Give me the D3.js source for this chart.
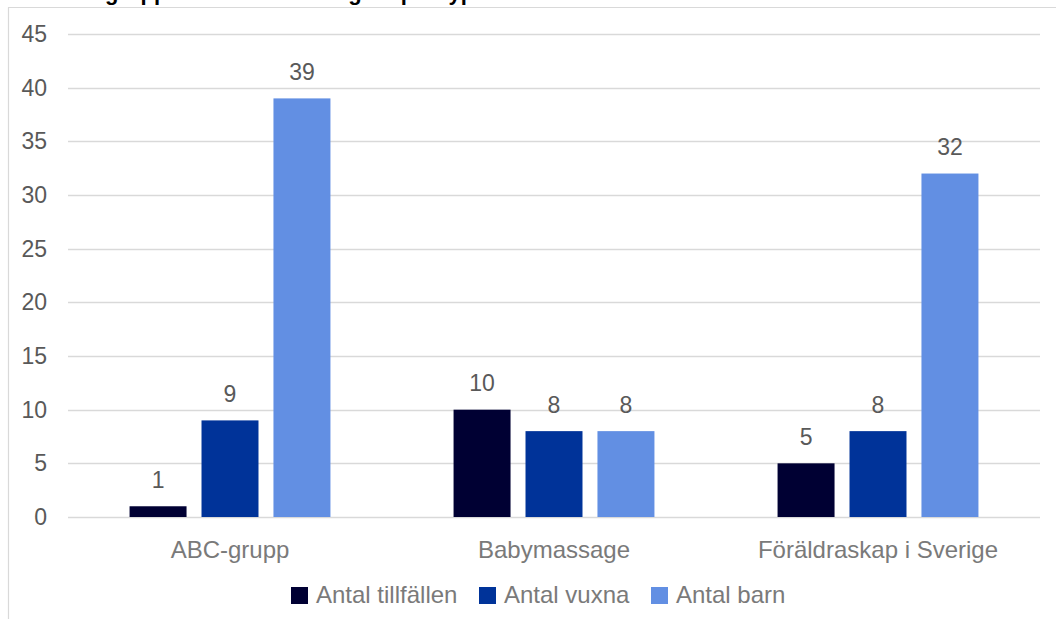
<!DOCTYPE html>
<html><head><meta charset="utf-8">
<script src="https://cdn.jsdelivr.net/npm/d3@7"></script>
<style>body{margin:0;background:#fff}svg{display:block}</style>
</head><body>
<svg id="c" width="1056" height="619"></svg>
<script>
const titleText = "Föräldragrupper och antal deltagare per typ";
const categories = ["ABC-grupp", "Babymassage", "Föräldraskap i Sverige"];
const seriesNames = ["Antal tillfällen", "Antal vuxna", "Antal barn"];
const seriesColors = ["#000033", "#003399", "#628fe3"];
const tillfallen = [1, 10, 5];
const vuxna = [9, 8, 8];
const barn = [39, 8, 32];
const yTicks = [0, 5, 10, 15, 20, 25, 30, 35, 40, 45];

(function () {
const seriesValues = [tillfallen, vuxna, barn];
const svg = d3.select("#c");
const font = "Arial, 'Liberation Sans', sans-serif";

// frame
svg.append("line").attr("x1", 8.5).attr("x2", 8.5).attr("y1", 7.5).attr("y2", 619).attr("stroke", "#d9d9d9").attr("stroke-width", 1.2);
svg.append("line").attr("x1", 8).attr("x2", 1056).attr("y1", 7.5).attr("y2", 7.5).attr("stroke", "#d9d9d9").attr("stroke-width", 1.2);

// title (mostly above the visible area, as in the reference)
svg.append("text").attr("x", 17).attr("y", 0).attr("font-family", font).attr("font-weight", "bold")
  .attr("font-size", 22).attr("fill", "#000").text(titleText);

const pl = 68, pr = 1040, pt = 34, pb = 517;
const y = d3.scaleLinear().domain([0, 45]).range([pb, pt]);
const x0 = d3.scaleBand().domain(categories).range([pl, pr]).paddingInner(0.38).paddingOuter(0.19);
const x1 = d3.scaleBand().domain(seriesNames).range([0, x0.bandwidth()]).paddingInner(0.208).paddingOuter(0);

// gridlines
svg.append("g").selectAll("line").data(yTicks).join("line")
  .attr("x1", pl).attr("x2", pr)
  .attr("y1", d => Math.round(y(d)) + 0.5).attr("y2", d => Math.round(y(d)) + 0.5)
  .attr("stroke", "#d9d9d9").attr("stroke-width", 1.5);

// y tick labels
svg.append("g").selectAll("text").data(yTicks).join("text")
  .attr("x", 47).attr("y", d => y(d)).attr("dy", "0.35em").attr("text-anchor", "end")
  .attr("font-family", font).attr("font-size", 23).attr("fill", "#595959").text(d => d);

// bars
const data = [];
categories.forEach((c, i) => seriesNames.forEach((s, j) => data.push({c, s, j, v: seriesValues[j][i]})));
svg.append("g").selectAll("rect").data(data).join("rect")
  .attr("x", d => x0(d.c) + x1(d.s)).attr("width", x1.bandwidth())
  .attr("y", d => y(d.v)).attr("height", d => y(0) - y(d.v))
  .attr("fill", d => seriesColors[d.j]);

// data labels
svg.append("g").selectAll("text").data(data).join("text")
  .attr("x", d => x0(d.c) + x1(d.s) + x1.bandwidth() / 2).attr("y", d => y(d.v) - 18.5)
  .attr("text-anchor", "middle").attr("font-family", font).attr("font-size", 23).attr("fill", "#595959")
  .text(d => d.v);

// category labels
svg.append("g").selectAll("text").data(categories).join("text")
  .attr("x", d => x0(d) + x0.bandwidth() / 2).attr("y", 558)
  .attr("text-anchor", "middle").attr("font-family", font).attr("font-size", 24).attr("fill", "#7a7a7a")
  .text(d => d);

// legend
const legendX = [291, 479, 651];
const lg = svg.append("g").selectAll("g").data(seriesNames).join("g")
  .attr("transform", (d, i) => `translate(${legendX[i]},587)`);
lg.append("rect").attr("width", 17).attr("height", 17).attr("fill", (d, i) => seriesColors[i]);
lg.append("text").attr("x", 25).attr("y", 16).attr("font-family", font).attr("font-size", 24).attr("fill", "#7a7a7a").text(d => d);
})();
</script>
</body></html>
